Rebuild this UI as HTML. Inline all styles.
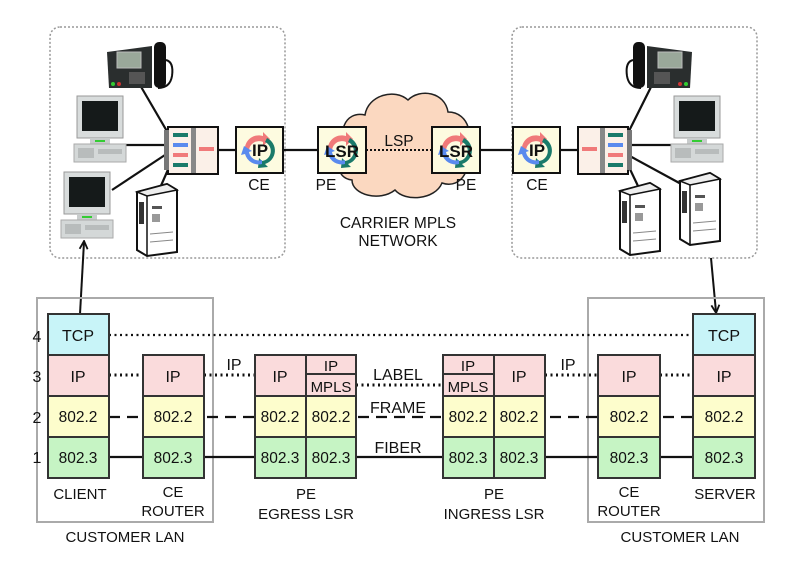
<!DOCTYPE html>
<html><head><meta charset="utf-8"><style>
html,body{margin:0;padding:0;background:#fff}
svg{display:block}
text{font-family:"Liberation Sans",Arial,sans-serif;fill:#111}
</style></head><body>
<svg width="800" height="566" viewBox="0 0 800 566" xmlns="http://www.w3.org/2000/svg">
<defs>
 <g id="mon">
  <rect x="3" y="0" width="46" height="42" fill="#d8dcdc" stroke="#999" stroke-width="1"/>
  <rect x="8" y="5" width="36" height="30" fill="#151a1a"/>
  <rect x="16" y="42" width="20" height="6" fill="#c8cccc"/>
  <rect x="21" y="44" width="10" height="2" fill="#3c3"/>
  <rect x="0" y="48" width="52" height="18" fill="#d4d8d8" stroke="#aaa" stroke-width="1"/>
  <rect x="4" y="52" width="16" height="10" fill="#b8bcbc"/>
  <rect x="24" y="53" width="24" height="5" fill="#b8bcbc"/>
 </g>
 <g id="tower">
  <polygon points="0,8 30,0 40,6 40,68 10,72 0,66" fill="#fff" stroke="#111" stroke-width="2"/>
  <polygon points="0,8 30,0 40,6 10,12" fill="#eee" stroke="#111" stroke-width="1.5"/>
  <line x1="10" y1="12" x2="10" y2="72" stroke="#111" stroke-width="1.5"/>
  <rect x="2" y="18" width="5" height="22" fill="#333"/>
  <rect x="15" y="22" width="10" height="3" fill="#555"/>
  <rect x="15" y="30" width="8" height="8" fill="#999"/>
  <line x1="13" y1="50" x2="36" y2="48" stroke="#888"/>
  <line x1="13" y1="58" x2="36" y2="56" stroke="#888"/>
 </g>
 <g id="phone">
  <polygon points="0,10 45,4 45,46 2,46" fill="#2a2e2e"/>
  <rect x="10" y="10" width="24" height="16" fill="#9aa89a" stroke="#bbb"/>
  <rect x="22" y="30" width="16" height="12" fill="#555"/>
  <circle cx="6" cy="42" r="2" fill="#3c3"/><circle cx="12" cy="42" r="2" fill="#c33"/>
  <rect x="47" y="0" width="12" height="46" rx="5" fill="#111"/>
  <path d="M59 18 q8 2 6 16 q-2 12 -14 12" fill="none" stroke="#111" stroke-width="2"/>
 </g>
 <g id="cyc">
  <path d="M-14,2 A14,14 0 0 1 4,-14 l0,-4 l7,7 l-7,7 l0,-4 A10,10 0 0 0 -10,2 Z" fill="#f07a7a"/>
  <path d="M8,-12 A14,14 0 0 1 6,14 l3,3 l-10,1 l1,-10 l3,3 A10,10 0 0 0 6,-8 Z" fill="#1a7a6a"/>
  <path d="M3,14 A14,14 0 0 1 -14,4 l-4,1 l3,-9 l8,5 l-3,1 A10,10 0 0 0 3,10 Z" fill="#5a8aee"/>
 </g>
 <marker id="ah" markerWidth="10" markerHeight="10" refX="8" refY="5" orient="auto" markerUnits="userSpaceOnUse">
  <path d="M1,1 L9,5 L1,9" fill="none" stroke="#111" stroke-width="1.8"/>
 </marker>
</defs>

<rect x="50" y="27" width="235" height="231" rx="10" fill="none" stroke="#999" stroke-width="1.5" stroke-dasharray="2,2"/>
<rect x="512" y="27" width="245" height="231" rx="10" fill="none" stroke="#999" stroke-width="1.5" stroke-dasharray="2,2"/>

<path d="M350,150 C335,135 345,110 365,115 C368,95 395,88 408,100 C420,88 445,92 448,112 C470,112 475,140 462,150 C475,165 462,190 442,183 C435,200 405,202 395,190 C380,202 352,195 352,180 C335,178 335,158 350,150 Z" fill="#fbd8c0" stroke="#222" stroke-width="1.5"/>

<g stroke="#111" stroke-width="2.2">
 <line x1="140" y1="85" x2="168" y2="133"/>
 <line x1="120" y1="145" x2="168" y2="145"/>
 <line x1="112" y1="190" x2="168" y2="153"/>
 <line x1="160" y1="188" x2="170" y2="165"/>
 <line x1="218" y1="150" x2="236" y2="150"/>
 <line x1="283" y1="150" x2="318" y2="150"/>
 <line x1="480" y1="150" x2="513" y2="150"/>
 <line x1="560" y1="150" x2="578" y2="150"/>
 <line x1="628" y1="133" x2="652" y2="85"/>
 <line x1="628" y1="145" x2="680" y2="145"/>
 <line x1="628" y1="155" x2="683" y2="185"/>
 <line x1="628" y1="165" x2="638" y2="186"/>
</g>
<use href="#phone" x="107" y="42"/>
<use href="#mon" x="74" y="96"/>
<use href="#mon" x="61" y="172"/>
<use href="#tower" x="137" y="184"/>
<g transform="translate(692,42) scale(-1,1)"><use href="#phone"/></g>
<use href="#mon" x="671" y="96"/>
<use href="#tower" x="620" y="183"/>
<use href="#tower" x="680" y="173"/>

<g>
 <rect x="168" y="127" width="50" height="47" fill="#fbf0e8" stroke="#111" stroke-width="2"/>
 <rect x="191" y="128" width="5" height="45" fill="#888"/>
 <rect x="164" y="130" width="5" height="40" fill="#777"/>
 <g stroke-width="4"><line x1="173" y1="135" x2="188" y2="135" stroke="#1a7a6a"/><line x1="173" y1="145" x2="188" y2="145" stroke="#5a8aee"/><line x1="173" y1="155" x2="188" y2="155" stroke="#f07a7a"/><line x1="173" y1="165" x2="188" y2="165" stroke="#1a7a6a"/><line x1="199" y1="149" x2="214" y2="149" stroke="#f07a7a"/></g>
</g>
<g>
 <rect x="578" y="127" width="50" height="47" fill="#fbf0e8" stroke="#111" stroke-width="2"/>
 <rect x="600" y="128" width="5" height="45" fill="#888"/>
 <rect x="627" y="130" width="5" height="40" fill="#777"/>
 <g stroke-width="4"><line x1="608" y1="135" x2="623" y2="135" stroke="#1a7a6a"/><line x1="608" y1="145" x2="623" y2="145" stroke="#5a8aee"/><line x1="608" y1="155" x2="623" y2="155" stroke="#f07a7a"/><line x1="608" y1="165" x2="623" y2="165" stroke="#1a7a6a"/><line x1="582" y1="149" x2="597" y2="149" stroke="#f07a7a"/></g>
</g>

<g stroke="#111" stroke-width="2" fill="#fdfbe0">
 <rect x="236" y="127" width="47" height="46"/>
 <rect x="318" y="127" width="48" height="46"/>
 <rect x="432" y="127" width="48" height="46"/>
 <rect x="513" y="127" width="47" height="46"/>
</g>
<use href="#cyc" x="259" y="150"/><use href="#cyc" x="342" y="150"/><use href="#cyc" x="456" y="150"/><use href="#cyc" x="536" y="150"/>
<g font-weight="bold" font-size="17" text-anchor="middle">
 <text x="260" y="156">IP</text><text x="342" y="157">LSR</text><text x="456" y="157">LSR</text><text x="537" y="156">IP</text>
</g>
<line x1="366" y1="150" x2="432" y2="150" stroke="#111" stroke-width="2" stroke-dasharray="2,2"/>
<g font-size="15.5" text-anchor="middle">
 <text x="259" y="190">CE</text><text x="537" y="190">CE</text>
 <text x="326" y="190">PE</text><text x="466" y="190">PE</text>
 <text x="399" y="146">LSP</text>
 <text x="398" y="228">CARRIER MPLS</text><text x="398" y="246">NETWORK</text>
</g>

<line x1="80" y1="314" x2="84" y2="242" stroke="#111" stroke-width="2" marker-end="url(#ah)"/>
<line x1="711" y1="258" x2="716" y2="312" stroke="#111" stroke-width="2" marker-end="url(#ah)"/>

<rect x="37" y="298" width="176" height="224" fill="none" stroke="#aaa" stroke-width="2"/>
<rect x="588" y="298" width="176" height="224" fill="none" stroke="#aaa" stroke-width="2"/>

<g stroke="#111" stroke-width="2.2">
 <line x1="109" y1="335" x2="693" y2="335" stroke-dasharray="2,3.5"/>
 <line x1="109" y1="375" x2="143" y2="375" stroke-dasharray="2,3.5" stroke-width="3"/>
 <line x1="204" y1="375" x2="255" y2="375" stroke-dasharray="2,3.5" stroke-width="3"/>
 <line x1="356" y1="385" x2="443" y2="385" stroke-dasharray="2,3.5" stroke-width="3"/>
 <line x1="545" y1="375" x2="598" y2="375" stroke-dasharray="2,3.5" stroke-width="3"/>
 <line x1="660" y1="375" x2="693" y2="375" stroke-dasharray="2,3.5" stroke-width="3"/>
 <line x1="109" y1="417" x2="143" y2="417" stroke-dasharray="11,7"/>
 <line x1="207" y1="417" x2="255" y2="417" stroke-dasharray="11,7"/>
 <line x1="358" y1="417" x2="443" y2="417" stroke-dasharray="11,7"/>
 <line x1="550" y1="417" x2="598" y2="417" stroke-dasharray="11,7"/>
 <line x1="663" y1="417" x2="693" y2="417" stroke-dasharray="11,7"/>
 <line x1="109" y1="457" x2="693" y2="457"/>
</g>

<g stroke="#333" stroke-width="2">
 <rect x="48" y="314" width="61" height="41" fill="#c8f4f8"/>
 <rect x="48" y="355" width="61" height="41" fill="#fadbdc"/>
 <rect x="48" y="396" width="61" height="41" fill="#fdfdcc"/>
 <rect x="48" y="437" width="61" height="41" fill="#c6f4c4"/>
 <rect x="143" y="355" width="61" height="41" fill="#fadbdc"/>
 <rect x="143" y="396" width="61" height="41" fill="#fdfdcc"/>
 <rect x="143" y="437" width="61" height="41" fill="#c6f4c4"/>
 <rect x="255" y="355" width="51" height="41" fill="#fadbdc"/>
 <rect x="306" y="355" width="50" height="19" fill="#fadbdc"/>
 <rect x="306" y="374" width="50" height="22" fill="#fadbdc"/>
 <rect x="255" y="396" width="51" height="41" fill="#fdfdcc"/>
 <rect x="306" y="396" width="50" height="41" fill="#fdfdcc"/>
 <rect x="255" y="437" width="51" height="41" fill="#c6f4c4"/>
 <rect x="306" y="437" width="50" height="41" fill="#c6f4c4"/>
 <rect x="443" y="355" width="51" height="19" fill="#fadbdc"/>
 <rect x="443" y="374" width="51" height="22" fill="#fadbdc"/>
 <rect x="494" y="355" width="51" height="41" fill="#fadbdc"/>
 <rect x="443" y="396" width="51" height="41" fill="#fdfdcc"/>
 <rect x="494" y="396" width="51" height="41" fill="#fdfdcc"/>
 <rect x="443" y="437" width="51" height="41" fill="#c6f4c4"/>
 <rect x="494" y="437" width="51" height="41" fill="#c6f4c4"/>
 <rect x="598" y="355" width="62" height="41" fill="#fadbdc"/>
 <rect x="598" y="396" width="62" height="41" fill="#fdfdcc"/>
 <rect x="598" y="437" width="62" height="41" fill="#c6f4c4"/>
 <rect x="693" y="314" width="62" height="41" fill="#c8f4f8"/>
 <rect x="693" y="355" width="62" height="41" fill="#fadbdc"/>
 <rect x="693" y="396" width="62" height="41" fill="#fdfdcc"/>
 <rect x="693" y="437" width="62" height="41" fill="#c6f4c4"/>
</g>

<g font-size="16" text-anchor="middle">
 <text x="78" y="341">TCP</text><text x="724" y="341">TCP</text>
 <text x="78" y="382">IP</text><text x="173" y="382">IP</text><text x="280" y="382">IP</text><text x="519" y="382">IP</text><text x="629" y="382">IP</text><text x="724" y="382">IP</text>
 <text x="331" y="371" font-size="15">IP</text><text x="331" y="392" font-size="15">MPLS</text>
 <text x="468" y="371" font-size="15">IP</text><text x="468" y="392" font-size="15">MPLS</text>
 <g font-size="15.5">
 <text x="78" y="422">802.2</text><text x="173" y="422">802.2</text><text x="280" y="422">802.2</text><text x="331" y="422">802.2</text><text x="468" y="422">802.2</text><text x="519" y="422">802.2</text><text x="629" y="422">802.2</text><text x="724" y="422">802.2</text>
 <text x="78" y="463">802.3</text><text x="173" y="463">802.3</text><text x="280" y="463">802.3</text><text x="331" y="463">802.3</text><text x="468" y="463">802.3</text><text x="519" y="463">802.3</text><text x="629" y="463">802.3</text><text x="724" y="463">802.3</text>
 </g>
 <text x="37" y="342">4</text><text x="37" y="382">3</text><text x="37" y="423">2</text><text x="37" y="463">1</text>
 <text x="234" y="370">IP</text><text x="568" y="370">IP</text>
 <text x="398" y="380">LABEL</text><text x="398" y="413">FRAME</text><text x="398" y="453">FIBER</text>
 <g font-size="15">
 <text x="80" y="499">CLIENT</text>
 <text x="173" y="497">CE</text><text x="173" y="516">ROUTER</text>
 <text x="306" y="499">PE</text><text x="306" y="519">EGRESS LSR</text>
 <text x="494" y="499">PE</text><text x="494" y="519">INGRESS LSR</text>
 <text x="629" y="497">CE</text><text x="629" y="516">ROUTER</text>
 <text x="725" y="499">SERVER</text>
 <text x="125" y="542">CUSTOMER LAN</text><text x="680" y="542">CUSTOMER LAN</text>
 </g>
</g>
</svg>
</body></html>
